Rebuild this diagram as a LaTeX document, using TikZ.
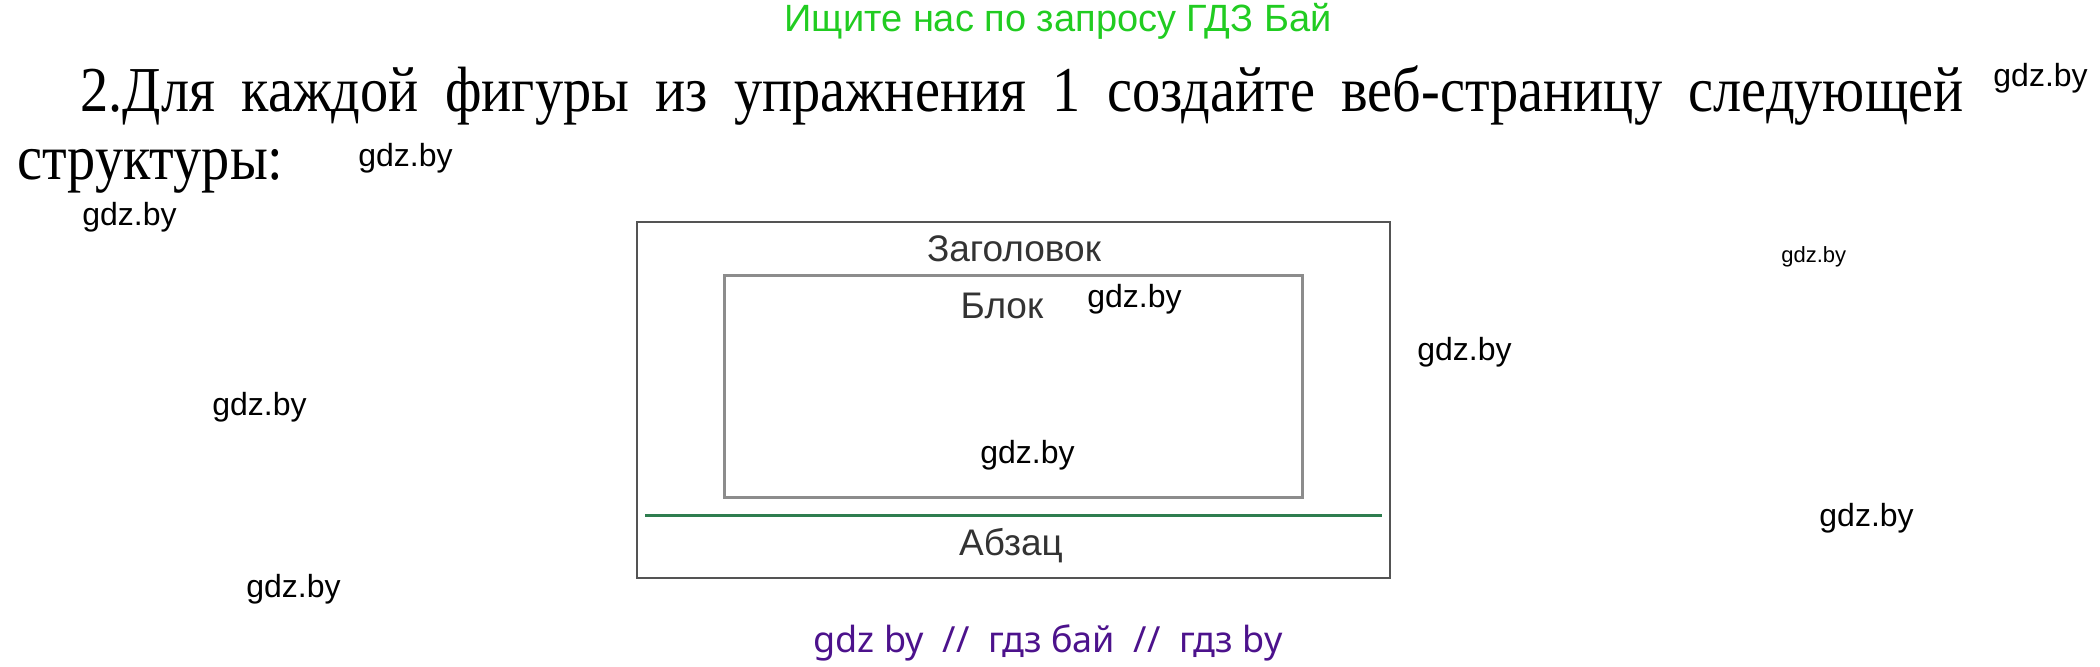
\documentclass[tikz,border=0pt]{standalone}
\usepackage{fontspec}
\setmainfont{Liberation Serif}
\newfontfamily\arialfont{Liberation Sans}
\newfontfamily\notofont{Noto Sans}
\usetikzlibrary{positioning}
\definecolor{gdzgreen}{rgb}{0.13, 0.80, 0.13}
\definecolor{gdzpurple}{rgb}{0.30, 0.07, 0.55}
\definecolor{rulegreen}{rgb}{0.18, 0.49, 0.31}
\definecolor{outergrey}{rgb}{0.33, 0.33, 0.33}
\definecolor{innergrey}{rgb}{0.55, 0.55, 0.55}
\definecolor{labelgrey}{rgb}{0.2, 0.2, 0.2}

\begin{document}
\begin{tikzpicture}[x=0.5pt, y=-0.5pt,
    wmark/.style={anchor=west, inner sep=0pt, font=\arialfont\fontsize{16}{18}\selectfont},
    boxlabel/.style={inner sep=0pt, text=labelgrey, font=\arialfont\fontsize{18.5}{20}\selectfont},
    task/.style={anchor=base west, inner sep=0pt, font=\fontsize{32}{36}\selectfont}]
                    \useasboundingbox (0, 0) rectangle (2100, 667);

                    \node[inner sep=0pt, text=gdzgreen, font=\arialfont\fontsize{19}{21}\selectfont] (Search) at (1058, 21) {Ищите нас по запросу ГДЗ Бай};
                    \node[task] (TaskA) at (80, 112) {\scalebox{0.88}[1]{\makebox[1069.9pt][s]{2.Для каждой фигуры из упражнения 1 создайте веб-страницу следующей}}};
                    \node[task] (TaskB) at (17, 180) {\scalebox{0.88}[1]{структуры:}};

                    \coordinate (PageNW) at (637, 222);
                    \coordinate (PageSE) at (1390, 578);
                    \coordinate (BlockNW) at (724, 276);
                    \coordinate (BlockSE) at (1302, 498);
                    \coordinate (RuleW) at (645, 516);
                    \coordinate (RuleE) at (1382, 516);

                    \draw[outergrey, line width=1.1pt] (PageNW) rectangle (PageSE);
                    \draw[innergrey, line width=1.5pt] (BlockNW) rectangle (BlockSE);
                    \draw[rulegreen, line width=1.5pt] (RuleW) -- (RuleE);

                    \node[boxlabel] (Header) at (1014, 249) {Заголовок};
                    \node[boxlabel] (Block) at (1002, 306) {Блок};
                    \node[boxlabel] (Para) at (1011, 546) {Абзац};

                    \node[wmark] (W1) at (1993, 78) {gdz.by};
                    \node[wmark] (W2) at (358, 158) {gdz.by};
                    \node[wmark] (W3) at (82, 217) {gdz.by};
                    \node[wmark, font=\arialfont\fontsize{11}{13}\selectfont] (W4) at (1781, 257) {gdz.by};
                    \node[wmark] (W5) at (1087, 299) {gdz.by};
                    \node[wmark] (W6) at (1417, 352) {gdz.by};
                    \node[wmark] (W7) at (212, 407) {gdz.by};
                    \node[wmark] (W8) at (980, 455) {gdz.by};
                    \node[wmark] (W9) at (1819, 518) {gdz.by};
                    \node[wmark] (W10) at (246, 589) {gdz.by};

                    \node[inner sep=0pt, text=gdzpurple, font=\notofont\fontsize{18}{20}\selectfont] (Footer) at (1048, 643) {gdz by\ \ //\ \ гдз бай\ \ //\ \ гдз by};
            \end{tikzpicture}
\end{document}
